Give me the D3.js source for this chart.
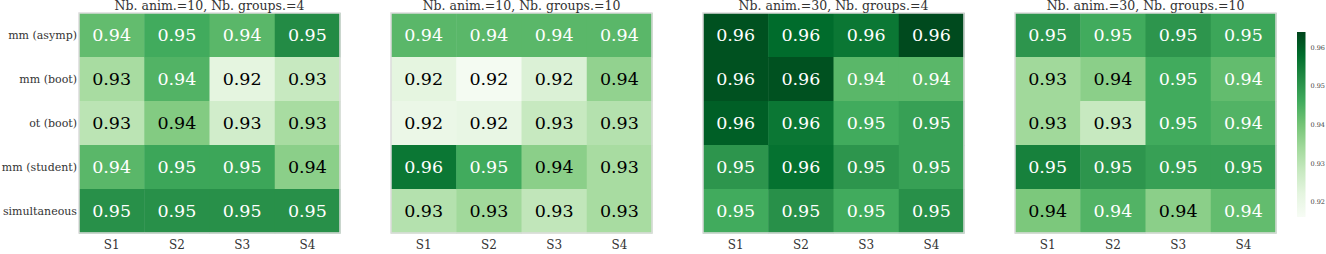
<!DOCTYPE html>
<html>
<head>
<meta charset="utf-8">
<script src="https://cdn.jsdelivr.net/npm/d3@7"></script>
<style>
  body { margin: 0; background: #fff; }
  svg text { font-family: "DejaVu Serif", serif; }
</style>
</head>
<body>
<div id="chart"></div>
<script>
// data
var rows = ['mm (asymp)', 'mm (boot)', 'ot (boot)', 'mm (student)', 'simultaneous'];
var cols = ['S1', 'S2', 'S3', 'S4'];
var titles = ['Nb. anim.=10, Nb. groups.=4', 'Nb. anim.=10, Nb. groups.=10',
              'Nb. anim.=30, Nb. groups.=4', 'Nb. anim.=30, Nb. groups.=10'];

var a10g4 = [
  [0.942, 0.946, 0.943, 0.952],
  [0.933, 0.944, 0.922, 0.928],
  [0.930, 0.938, 0.926, 0.933],
  [0.943, 0.947, 0.947, 0.937],
  [0.951, 0.951, 0.951, 0.951]
];
var a10g10 = [
  [0.943, 0.943, 0.943, 0.943],
  [0.922, 0.917, 0.924, 0.936],
  [0.920, 0.921, 0.928, 0.931],
  [0.956, 0.946, 0.937, 0.933],
  [0.931, 0.934, 0.929, 0.933]
];
var a30g4 = [
  [0.962, 0.958, 0.956, 0.963],
  [0.962, 0.962, 0.943, 0.943],
  [0.960, 0.956, 0.946, 0.948],
  [0.950, 0.957, 0.950, 0.948],
  [0.946, 0.951, 0.946, 0.951]
];
var a30g10 = [
  [0.950, 0.946, 0.950, 0.947],
  [0.934, 0.937, 0.946, 0.942],
  [0.934, 0.928, 0.946, 0.944],
  [0.954, 0.950, 0.948, 0.948],
  [0.939, 0.944, 0.937, 0.942]
];
var panels = [a10g4, a10g10, a30g4, a30g10];
var vmin = 0.9161, vmax = 0.9639;
var cbTicks = [0.92, 0.93, 0.94, 0.95, 0.96];

// layout
var W = 1326, H = 254;
var panelLeft = [79, 391, 703, 1015];
var hmTop = 13, hmW = 261, hmH = 220;

var svg = d3.select('#chart').append('svg')
    .attr('width', W)
    .attr('height', H);

var greens = d3.schemeGreens[9];
var color = d3.scaleLinear()
    .domain(greens.map((c, i) => vmin + i * (vmax - vmin) / 8))
    .range(greens)
    .clamp(true);

function textColor(c) {
  var rgb = d3.rgb(c);
  var lin = v => { v = v / 255; return v <= 0.03928 ? v / 12.92 : Math.pow((v + 0.055) / 1.055, 2.4); };
  var L = 0.2126 * lin(rgb.r) + 0.7152 * lin(rgb.g) + 0.0722 * lin(rgb.b);
  return L > 0.408 ? '#000' : '#fff';
}

var x = d3.scaleBand().domain(cols).range([0, hmW]);
var y = d3.scaleBand().domain(rows).range([0, hmH]);

panels.forEach(function(data, p) {
  var g = svg.append('g').attr('transform', 'translate(' + panelLeft[p] + ',' + hmTop + ')');

  var cells = [];
  data.forEach((r, i) => r.forEach((v, j) => cells.push({row: rows[i], col: cols[j], v: v})));

  g.selectAll('rect.cell')
    .data(cells)
    .enter().append('rect')
    .attr('class', 'cell')
    .attr('x', d => x(d.col))
    .attr('y', d => y(d.row))
    .attr('width', x.bandwidth() + 0.5)
    .attr('height', y.bandwidth() + 0.5)
    .attr('fill', d => color(d.v));

  g.selectAll('text.annot')
    .data(cells)
    .enter().append('text')
    .attr('class', 'annot')
    .attr('x', d => x(d.col) + x.bandwidth() / 2)
    .attr('y', d => y(d.row) + y.bandwidth() / 2)
    .attr('dy', '0.36em')
    .attr('text-anchor', 'middle')
    .style('font-size', '17.5px')
    .attr('fill', d => textColor(color(d.v)))
    .text(d => d.v.toFixed(2));

  g.append('rect')
    .attr('width', hmW)
    .attr('height', hmH)
    .attr('fill', 'none')
    .attr('stroke', '#dcdcdc')
    .attr('stroke-width', 1.5);

  // title
  g.append('text')
    .attr('x', hmW / 2)
    .attr('y', -3)
    .attr('text-anchor', 'middle')
    .style('font-size', '12.5px')
    .attr('fill', '#333')
    .text(titles[p]);

  // x labels
  g.selectAll('text.xl')
    .data(cols)
    .enter().append('text')
    .attr('class', 'xl')
    .attr('x', d => x(d) + x.bandwidth() / 2)
    .attr('y', hmH + 16)
    .attr('text-anchor', 'middle')
    .style('font-size', '12px')
    .attr('fill', '#333')
    .text(d => d);

  if (p === 0) {
    g.selectAll('text.yl')
      .data(rows)
      .enter().append('text')
      .attr('class', 'yl')
      .attr('x', -2)
      .attr('y', d => y(d) + y.bandwidth() / 2)
      .attr('dy', '0.35em')
      .attr('text-anchor', 'end')
      .style('font-size', '11px')
      .attr('fill', '#333')
      .text(d => d);
  }
});

// colorbar
var cbX = 1297, cbW = 8.5, cbTop = 32, cbBot = 217;
var cbY = d3.scaleLinear().domain([vmin, vmax]).range([cbBot, cbTop]);
var defs = svg.append('defs');
var grad = defs.append('linearGradient')
    .attr('id', 'cbgrad')
    .attr('x1', 0).attr('y1', 1).attr('x2', 0).attr('y2', 0);
grad.selectAll('stop')
    .data(greens)
    .enter().append('stop')
    .attr('offset', (d, i) => i / 8)
    .attr('stop-color', d => d);

svg.append('rect')
    .attr('x', cbX)
    .attr('y', cbTop)
    .attr('width', cbW)
    .attr('height', cbBot - cbTop)
    .attr('fill', 'url(#cbgrad)');

var cbAxis = svg.append('g')
    .attr('transform', 'translate(' + (cbX + cbW) + ',0)')
    .call(d3.axisRight(cbY).tickValues(cbTicks).tickSize(0).tickPadding(5).tickFormat(d3.format('.2f')));
cbAxis.select('.domain').remove();
cbAxis.selectAll('text')
    .style('font-family', '"DejaVu Serif", serif')
    .style('font-size', '6.5px')
    .attr('fill', '#444');
</script>
</body>
</html>
